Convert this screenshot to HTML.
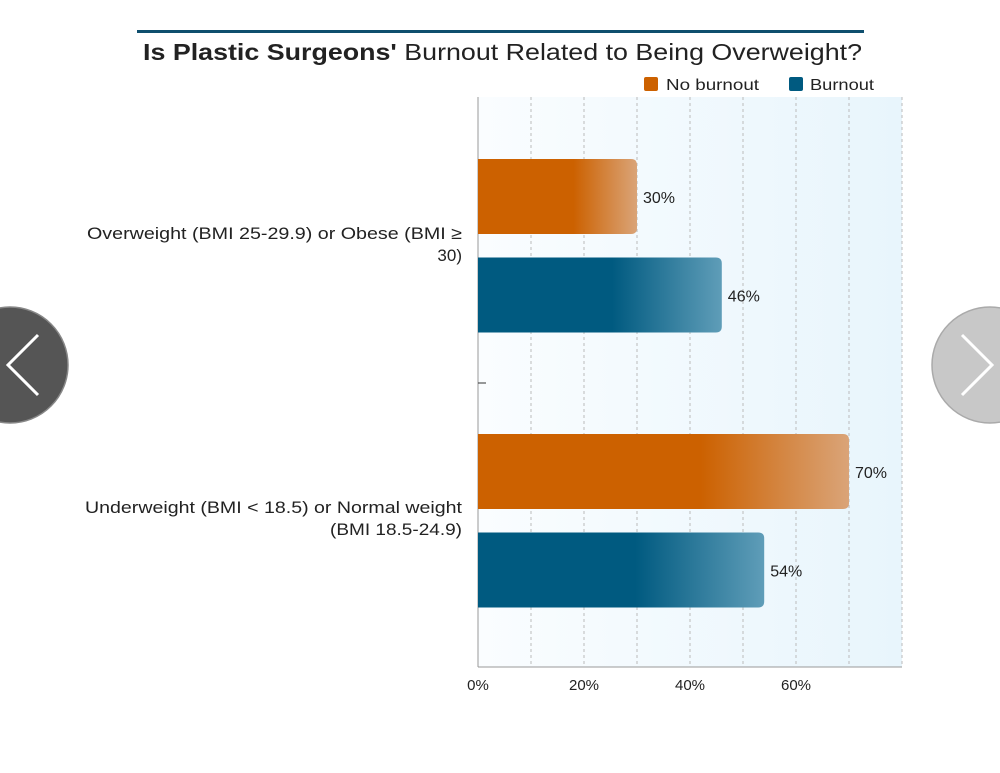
<!DOCTYPE html>
<html><head><meta charset="utf-8"><style>
body{margin:0;width:1000px;height:768px;background:#fff;overflow:hidden;font-family:"Liberation Sans",sans-serif;}
</style></head><body>
<svg width="1000" height="768" xmlns="http://www.w3.org/2000/svg">
<defs>
<linearGradient id="bg" x1="0" x2="1"><stop offset="0" stop-color="#fafdff"/><stop offset="1" stop-color="#e8f5fc"/></linearGradient>
<linearGradient id="go" x1="0" x2="1"><stop offset="0" stop-color="#cc6100"/><stop offset="0.6" stop-color="#cc6100"/><stop offset="1" stop-color="#daa478"/></linearGradient>
<linearGradient id="gb" x1="0" x2="1"><stop offset="0" stop-color="#005a80"/><stop offset="0.55" stop-color="#005a80"/><stop offset="1" stop-color="#5f9db8"/></linearGradient>
</defs>
<rect x="137" y="30" width="727" height="3" fill="#0f4f6e"/>
<text x="143" y="60" font-size="23" fill="#222" textLength="719" lengthAdjust="spacingAndGlyphs"><tspan font-weight="bold">Is Plastic Surgeons'</tspan> Burnout Related to Being Overweight?</text>
<g>
<rect x="644" y="77" width="14" height="14" rx="2" fill="#cc6100"/>
<text x="666" y="90" font-size="16" fill="#222" textLength="93" lengthAdjust="spacingAndGlyphs">No burnout</text>
<rect x="789" y="77" width="14" height="14" rx="2" fill="#005a80"/>
<text x="810" y="90" font-size="16" fill="#222" textLength="64" lengthAdjust="spacingAndGlyphs">Burnout</text>
</g>
<rect x="478" y="97" width="424" height="570" fill="url(#bg)"/>
<g id="grid"></g>
<line x1="478" y1="97" x2="478" y2="667" stroke="#999"/>
<line x1="478" y1="667" x2="902" y2="667" stroke="#999"/>
<line x1="478" y1="383" x2="486" y2="383" stroke="#333"/>
<g id="bars"></g>
<g font-size="17" fill="#222">
<text x="87" y="239" textLength="375" lengthAdjust="spacingAndGlyphs">Overweight (BMI 25-29.9) or Obese (BMI ≥</text>
<text x="462" y="261" text-anchor="end">30)</text>
<text x="85" y="513" textLength="377" lengthAdjust="spacingAndGlyphs">Underweight (BMI &lt; 18.5) or Normal weight</text>
<text x="330" y="535" textLength="132" lengthAdjust="spacingAndGlyphs">(BMI 18.5-24.9)</text>
</g>
<g id="ticks"></g>
<g><circle cx="10" cy="365" r="58" fill="#555" stroke="#888" stroke-width="1.5"/><polyline points="38,335 8,365 38,395" fill="none" stroke="#fff" stroke-width="3"/></g>
<g><circle cx="990" cy="365" r="58" fill="#c8c8c8" stroke="#aaa" stroke-width="1.5"/><polyline points="962,335 992,365 962,395" fill="none" stroke="#fff" stroke-width="3"/></g>
</svg>
<script>
const categories=["Overweight","Normal"];
const noBurnout=[30,70];
const burnout=[46,54];
const tickValues=[0,20,40,60];
const x0=478,pxPer=5.3;
const xs=v=>x0+v*pxPer;
const NS="http://www.w3.org/2000/svg";
function mk(t,a,p){const e=document.createElementNS(NS,t);for(const k in a)e.setAttribute(k,a[k]);p.appendChild(e);return e;}
const grid=document.getElementById('grid');
for(let v=10;v<=80;v+=10){const l=mk('line',{x1:xs(v),x2:xs(v),y1:97,y2:667,stroke:'#bbb','stroke-dasharray':'3,3'},grid);

}
const ticks=document.getElementById('ticks');
tickValues.forEach(v=>{const t=mk('text',{x:xs(v),y:690,'text-anchor':'middle','font-size':15,fill:'#222'},ticks);t.textContent=v+'%';

});
const bars=document.getElementById('bars');
const groupTop=[159,434];
categories.forEach((c,i)=>{
 [[noBurnout[i],'url(#go)',0,'bar-no-burnout'],[burnout[i],'url(#gb)',98.5,'bar-burnout']].forEach(([v,f,off,nm])=>{
  const y=groupTop[i]+off,w=xs(v)-x0;
  const r=mk('path',{d:`M${x0},${y} H${x0+w-6} Q${x0+w},${y} ${x0+w},${y+6} V${y+69} Q${x0+w},${y+75} ${x0+w-6},${y+75} H${x0} Z`,fill:f},bars);
  
  
  const t=mk('text',{x:x0+w+6,y:y+44,'font-size':16,fill:'#222'},bars);t.textContent=v+'%';
  
  
 });
});
</script>
</body></html>
